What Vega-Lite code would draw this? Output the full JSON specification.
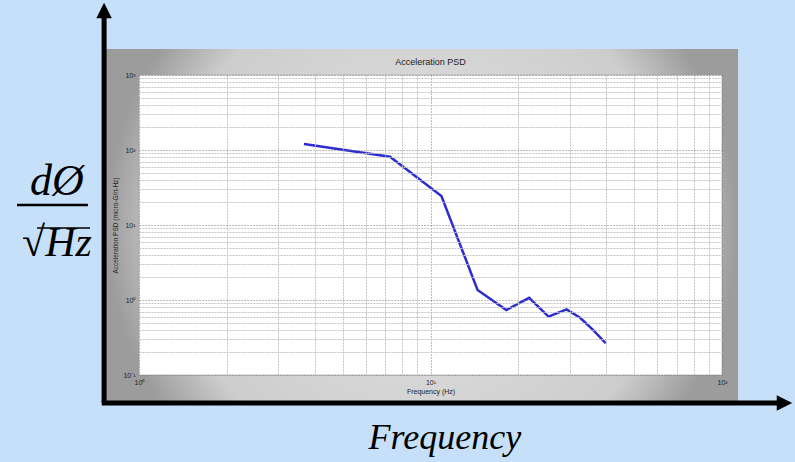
{
  "$schema": "https://vega.github.io/schema/vega-lite/v6.json",
  "width": 583,
  "height": 300,
  "autosize": {"type": "none"},
  "padding": {"left": 139, "top": 75, "right": 73, "bottom": 87},
  "background": "#c6e0f9",
  "title": {"text": "Acceleration PSD", "frame": "group", "fontSize": 9, "font": "Liberation Sans", "fontWeight": "normal", "color": "#222", "offset": -64, "anchor": "middle"},
  "config": {"view": {"stroke": null}},
  "datasets": {
    "psd": [
      {"freq": 3.68, "psd": 120},
      {"freq": 7.26, "psd": 81.5},
      {"freq": 10.9, "psd": 24.4},
      {"freq": 14.5, "psd": 1.36},
      {"freq": 18.2, "psd": 0.735},
      {"freq": 21.8, "psd": 1.07},
      {"freq": 25.4, "psd": 0.6},
      {"freq": 29.3, "psd": 0.75},
      {"freq": 32.6, "psd": 0.58},
      {"freq": 36.1, "psd": 0.4},
      {"freq": 39.9, "psd": 0.265}
    ]
  },
  "layer": [
    {
      "data": {"values": [{}]},
      "mark": {"type": "rect", "fill": {"gradient": "radial", "x1": 0.5, "y1": 0.5, "x2": 0.5, "y2": 0.5, "r1": 0, "r2": 0.5, "stops": [{"offset": 0, "color": "#e4e4e4"}, {"offset": 0.8, "color": "#cdcdcd"}, {"offset": 1, "color": "#9c9c9c"}]}},
      "encoding": {
        "x": {"datum": 0.77, "type": "quantitative", "scale": {"type": "log", "domain": [1, 100], "nice": false}},
        "x2": {"datum": 113.5},
        "y": {"datum": 2222, "type": "quantitative", "scale": {"type": "log", "domain": [0.1, 1000], "nice": false}},
        "y2": {"datum": 0.0423}
      }
    },
    {
      "data": {"values": [{}]},
      "mark": {"type": "rect", "fill": "white", "stroke": "#9a9a9a", "strokeWidth": 0.6},
      "encoding": {
        "x": {"datum": 1, "type": "quantitative", "scale": {"type": "log", "domain": [1, 100], "nice": false}},
        "x2": {"datum": 100},
        "y": {"datum": 1000, "type": "quantitative", "scale": {"type": "log", "domain": [0.1, 1000], "nice": false}},
        "y2": {"datum": 0.1}
      }
    },
    {
      "data": {"name": "psd"},
      "mark": {"type": "line", "color": "#2c2cd0", "strokeWidth": 2.5},
      "encoding": {
        "x": {
          "field": "freq", "type": "quantitative",
          "scale": {"type": "log", "domain": [1, 100], "nice": false},
          "axis": {
            "zindex": 1,
            "title": "Frequency (Hz)",
            "titleFont": "Liberation Sans", "titleFontSize": 7, "titleFontWeight": "normal", "titleColor": "#222", "titlePadding": 2,
            "values": [1, 2, 3, 4, 5, 6, 7, 8, 9, 10, 20, 30, 40, 50, 60, 70, 80, 90, 100],
            "labelExpr": "datum.value == 1 ? '10⁰' : datum.value == 10 ? '10¹' : datum.value == 100 ? '10²' : ''",
            "labelFont": "Liberation Sans", "labelFontSize": 7, "labelColor": "#222", "labelPadding": 3, "labelFlush": false, "labelOverlap": false,
            "ticks": false, "domain": false,
            "grid": true,
            "gridColor": {"condition": {"test": "datum.value == 1 || datum.value == 10 || datum.value == 100", "value": "#7a7a7a"}, "value": "#c4c4c4"},
            "gridDash": {"condition": {"test": "datum.value == 1 || datum.value == 10 || datum.value == 100", "value": [1, 2]}, "value": [2, 1]},
            "gridWidth": 1
          }
        },
        "y": {
          "field": "psd", "type": "quantitative",
          "scale": {"type": "log", "domain": [0.1, 1000], "nice": false},
          "axis": {
            "zindex": 1,
            "title": "Acceleration PSD (micro-G/rt-Hz)",
            "titleFont": "Liberation Sans", "titleFontSize": 6.5, "titleFontWeight": "normal", "titleColor": "#222", "titlePadding": 4,
            "values": [0.1, 0.2, 0.3, 0.4, 0.5, 0.6, 0.7, 0.8, 0.9, 1, 2, 3, 4, 5, 6, 7, 8, 9, 10, 20, 30, 40, 50, 60, 70, 80, 90, 100, 200, 300, 400, 500, 600, 700, 800, 900, 1000],
            "labelExpr": "datum.value == 0.1 ? '10⁻¹' : datum.value == 1 ? '10⁰' : datum.value == 10 ? '10¹' : datum.value == 100 ? '10²' : datum.value == 1000 ? '10³' : ''",
            "labelFont": "Liberation Sans", "labelFontSize": 7, "labelColor": "#222", "labelPadding": 4, "labelFlush": false, "labelOverlap": false,
            "ticks": false, "domain": false,
            "grid": true,
            "gridColor": {"condition": {"test": "datum.value == 0.1 || datum.value == 1 || datum.value == 10 || datum.value == 100 || datum.value == 1000", "value": "#7a7a7a"}, "value": "#c4c4c4"},
            "gridDash": {"condition": {"test": "datum.value == 0.1 || datum.value == 1 || datum.value == 10 || datum.value == 100 || datum.value == 1000", "value": [1, 2]}, "value": [2, 1]},
            "gridWidth": 1
          }
        }
      }
    },
    {
      "data": {"values": [{}]},
      "mark": {"type": "rule", "color": "black", "strokeWidth": 5},
      "encoding": {
        "x": {"datum": 0.759, "type": "quantitative", "scale": {"type": "log", "domain": [1, 100], "nice": false}},
        "y": {"datum": 0.0423, "type": "quantitative", "scale": {"type": "log", "domain": [0.1, 1000], "nice": false}},
        "y2": {"datum": 5754}
      }
    },
    {
      "data": {"values": [{}]},
      "mark": {"type": "rule", "color": "black", "strokeWidth": 5},
      "encoding": {
        "x": {"datum": 0.745, "type": "quantitative", "scale": {"type": "log", "domain": [1, 100], "nice": false}},
        "x2": {"datum": 154.4},
        "y": {"datum": 0.0423, "type": "quantitative", "scale": {"type": "log", "domain": [0.1, 1000], "nice": false}}
      }
    },
    {
      "data": {"values": [{}]},
      "mark": {"type": "point", "filled": true, "color": "black", "opacity": 1, "shape": "M-1,1L0,-1L1,1Z", "size": 240},
      "encoding": {
        "x": {"datum": 0.759, "type": "quantitative", "scale": {"type": "log", "domain": [1, 100], "nice": false}},
        "y": {"datum": 7244, "type": "quantitative", "scale": {"type": "log", "domain": [0.1, 1000], "nice": false}}
      }
    },
    {
      "data": {"values": [{}]},
      "mark": {"type": "point", "filled": true, "color": "black", "opacity": 1, "shape": "M-1,-1L1,0L-1,1Z", "size": 240},
      "encoding": {
        "x": {"datum": 163.8, "type": "quantitative", "scale": {"type": "log", "domain": [1, 100], "nice": false}},
        "y": {"datum": 0.0423, "type": "quantitative", "scale": {"type": "log", "domain": [0.1, 1000], "nice": false}}
      }
    },
    {
      "data": {"values": [{"label": "Frequency"}]},
      "mark": {"type": "text", "font": "Liberation Serif", "fontStyle": "italic", "fontSize": 36, "color": "black", "baseline": "middle", "align": "center"},
      "encoding": {
        "text": {"field": "label"},
        "x": {"datum": 11.2, "type": "quantitative", "scale": {"type": "log", "domain": [1, 100], "nice": false}},
        "y": {"datum": 0.0145, "type": "quantitative", "scale": {"type": "log", "domain": [0.1, 1000], "nice": false}}
      }
    },
    {
      "data": {"values": [{"label": "dØ"}]},
      "mark": {"type": "text", "font": "Liberation Serif", "fontStyle": "italic", "fontSize": 44, "color": "black", "baseline": "middle", "align": "center"},
      "encoding": {
        "text": {"field": "label"},
        "x": {"datum": 0.523, "type": "quantitative", "scale": {"type": "log", "domain": [1, 100], "nice": false}},
        "y": {"datum": 38, "type": "quantitative", "scale": {"type": "log", "domain": [0.1, 1000], "nice": false}}
      }
    },
    {
      "data": {"values": [{"label": "√Hz"}]},
      "mark": {"type": "text", "font": "Liberation Serif", "fontStyle": "italic", "fontSize": 42, "color": "black", "baseline": "middle", "align": "center"},
      "encoding": {
        "text": {"field": "label"},
        "x": {"datum": 0.523, "type": "quantitative", "scale": {"type": "log", "domain": [1, 100], "nice": false}},
        "y": {"datum": 5.8, "type": "quantitative", "scale": {"type": "log", "domain": [0.1, 1000], "nice": false}}
      }
    },
    {
      "data": {"values": [{}]},
      "mark": {"type": "rule", "color": "black", "strokeWidth": 1.5},
      "encoding": {
        "x": {"datum": 0.447, "type": "quantitative", "scale": {"type": "log", "domain": [1, 100], "nice": false}},
        "x2": {"datum": 0.679},
        "y": {"datum": 9.12, "type": "quantitative", "scale": {"type": "log", "domain": [0.1, 1000], "nice": false}}
      }
    },
    {
      "data": {"values": [{}]},
      "mark": {"type": "rule", "color": "black", "strokeWidth": 2.5},
      "encoding": {
        "x": {"datum": 0.3815, "type": "quantitative", "scale": {"type": "log", "domain": [1, 100], "nice": false}},
        "x2": {"datum": 0.668},
        "y": {"datum": 18.5, "type": "quantitative", "scale": {"type": "log", "domain": [0.1, 1000], "nice": false}}
      }
    }
  ]
}
